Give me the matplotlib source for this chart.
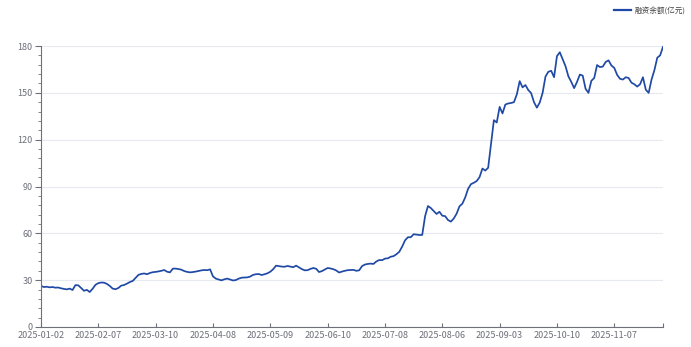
import matplotlib.pyplot as plt
from matplotlib.ticker import MultipleLocator

plt.rcParams['font.family'] = ['Noto Sans CJK SC', 'DejaVu Sans']

# x tick labels, one every 20 trading days
tick_labels = ['2025-01-02', '2025-02-07', '2025-03-10', '2025-04-08', '2025-05-09',
               '2025-06-10', '2025-07-08', '2025-08-06', '2025-09-03', '2025-10-10',
               '2025-11-07']

# 融资余额 (亿元)
balance = [
    26.3, 25.6, 25.8, 25.4, 25.6, 25.2, 25.3, 24.8, 24.4, 24.1,
    24.6, 23.7, 26.8, 26.7, 25.0, 23.2, 23.8, 22.4, 24.5, 27.0,
    28.1, 28.5, 28.4, 27.6, 26.3, 24.6, 24.2, 25.0, 26.5, 26.9,
    27.8, 28.8, 29.5, 31.5, 33.4, 34.0, 34.3, 33.8, 34.6, 35.1,
    35.3, 35.6, 36.0, 36.5, 35.4, 35.0, 37.4, 37.4, 37.1, 36.7,
    35.8, 35.3, 35.0, 35.2, 35.5, 35.9, 36.3, 36.5, 36.4, 36.9,
    32.4, 31.0, 30.4, 29.9, 30.6, 31.0, 30.4, 29.8, 30.1, 31.0,
    31.6, 31.7, 31.8, 32.3, 33.4, 33.8, 33.9, 33.3, 33.8, 34.4,
    35.4, 37.0, 39.3, 39.0, 38.7, 38.6, 39.1, 38.7, 38.3, 39.3,
    38.2, 37.1, 36.3, 36.4, 37.2, 37.8, 37.3, 35.2, 35.8, 36.8,
    37.8, 37.5, 37.0, 36.2, 34.9, 35.5, 36.0, 36.4, 36.5, 36.6,
    36.0, 36.3, 39.0, 40.0, 40.4, 40.6, 40.4, 42.0, 42.9, 42.8,
    43.8, 44.0, 45.0, 45.4, 46.6, 48.2, 51.5, 55.5, 57.5, 57.5,
    59.4, 59.2, 58.9, 59.0, 71.0, 77.5, 76.2, 74.3, 72.4, 73.8,
    71.3, 71.0, 68.5, 67.5, 69.5, 72.6, 77.3, 79.0, 83.0, 88.5,
    91.5, 92.4, 93.5, 96.0, 101.5, 100.2, 102.0, 117.0, 132.5, 131.0,
    141.0, 136.8, 142.5, 143.2, 143.5, 144.0, 149.0, 157.5, 153.5, 155.0,
    151.8, 149.8, 144.0, 140.5, 143.8, 150.0, 160.4, 163.5, 164.1, 160.0,
    173.5, 176.0, 171.5, 167.0, 160.5, 157.0, 153.0, 157.0, 161.7, 161.0,
    152.5, 150.0, 157.7, 159.5, 167.8, 166.5, 166.8, 169.8, 170.8, 167.5,
    166.0, 161.5, 159.0, 158.5, 160.0, 159.5, 156.5, 155.5, 154.0, 155.5,
    160.0, 152.0, 150.0, 158.5, 164.5, 172.5, 174.0, 179.5,
]

axis_grey = '#6e7079'

fig = plt.figure(figsize=(6.91, 3.47), dpi=100)
ax = fig.add_axes([41 / 691, 20 / 347, 622 / 691, 281 / 347])

x = list(range(len(balance)))
ax.plot(x, balance, color='#2049a6', linewidth=1.25, label='融资余额(亿元)')

ax.set_xlim(0, len(balance) - 1)
ax.set_ylim(0, 180)

ticks = list(range(0, len(balance), 20)) + [len(balance) - 1]
ax.set_xticks(ticks)
ax.set_xticklabels(tick_labels + [''])
ax.yaxis.set_major_locator(MultipleLocator(30))
ax.yaxis.set_minor_locator(MultipleLocator(6))

ax.grid(axis='y', color='#e6e9f0', linewidth=0.8)
ax.set_axisbelow(True)

for s in ['top', 'right']:
    ax.spines[s].set_visible(False)
for s in ['left', 'bottom']:
    ax.spines[s].set_color(axis_grey)
    ax.spines[s].set_linewidth(0.8)

ax.tick_params(axis='x', direction='in', length=3, width=0.8, color=axis_grey,
               labelcolor=axis_grey, labelsize=6.5, pad=3)
ax.tick_params(axis='y', which='major', direction='out', length=4, width=0.8,
               color=axis_grey, labelcolor=axis_grey, labelsize=6.5, pad=2)
ax.tick_params(axis='y', which='minor', direction='out', length=2, width=0.6,
               color=axis_grey)

leg = ax.legend(loc='upper right', bbox_to_anchor=(1.0, 0.995),
                bbox_transform=fig.transFigure, frameon=False, fontsize=5.5,
                handlelength=2.2, handletextpad=0.5, borderaxespad=0.3)
for t in leg.get_texts():
    t.set_color('#444444')
for h in leg.get_lines():
    h.set_linewidth(1.6)

fig.savefig('out.png', dpi=100)
